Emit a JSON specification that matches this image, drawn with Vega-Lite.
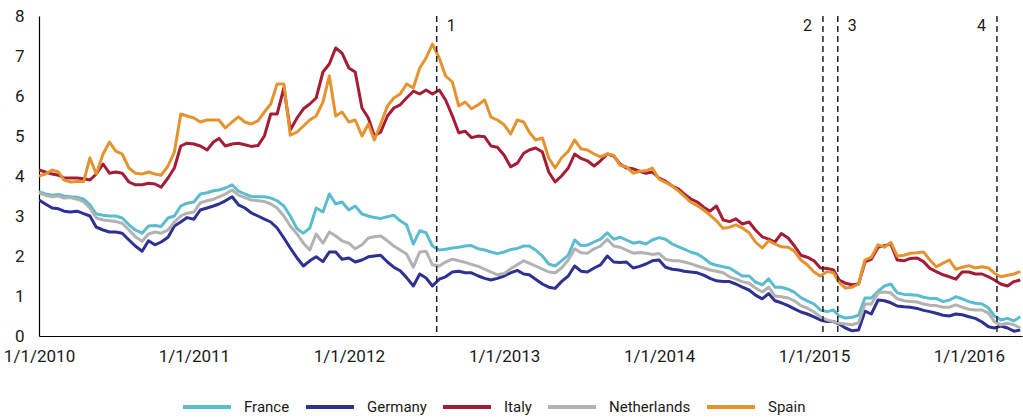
{
  "$schema": "https://vega.github.io/schema/vega-lite/v6.json",
  "width": 983,
  "height": 320,
  "autosize": "none",
  "padding": {"left": 39, "top": 16, "right": 1, "bottom": 83},
  "background": "white",
  "config": {
    "view": {"stroke": null},
    "font": "Roboto",
    "axis": {"labelFont": "Roboto", "labelColor": "#1a1a1a", "grid": false, "ticks": false, "domainColor": "#000000", "domainWidth": 1.2, "title": null, "labelOverlap": false}
  },
  "datasets": {
    "yields": [
      {"d":"2010-01-01","France":3.61,"Germany":3.40,"Italy":4.15,"Netherlands":3.58,"Spain":4.00},
      {"d":"2010-01-16","France":3.55,"Germany":3.30,"Italy":4.10,"Netherlands":3.52,"Spain":4.05},
      {"d":"2010-02-01","France":3.52,"Germany":3.20,"Italy":4.05,"Netherlands":3.48,"Spain":4.15},
      {"d":"2010-02-16","France":3.54,"Germany":3.18,"Italy":4.02,"Netherlands":3.50,"Spain":4.10},
      {"d":"2010-03-01","France":3.50,"Germany":3.12,"Italy":3.95,"Netherlands":3.45,"Spain":3.90},
      {"d":"2010-03-16","France":3.48,"Germany":3.10,"Italy":3.95,"Netherlands":3.46,"Spain":3.85},
      {"d":"2010-04-01","France":3.47,"Germany":3.12,"Italy":3.95,"Netherlands":3.42,"Spain":3.86},
      {"d":"2010-04-16","France":3.42,"Germany":3.06,"Italy":3.93,"Netherlands":3.35,"Spain":3.86},
      {"d":"2010-05-01","France":3.28,"Germany":3.00,"Italy":3.90,"Netherlands":3.20,"Spain":4.45},
      {"d":"2010-05-16","France":3.05,"Germany":2.72,"Italy":4.05,"Netherlands":2.95,"Spain":4.05},
      {"d":"2010-06-01","France":3.02,"Germany":2.65,"Italy":4.30,"Netherlands":2.90,"Spain":4.55},
      {"d":"2010-06-16","France":3.00,"Germany":2.60,"Italy":4.07,"Netherlands":2.88,"Spain":4.85},
      {"d":"2010-07-01","France":3.00,"Germany":2.60,"Italy":4.10,"Netherlands":2.86,"Spain":4.62},
      {"d":"2010-07-16","France":2.95,"Germany":2.57,"Italy":4.07,"Netherlands":2.82,"Spain":4.55},
      {"d":"2010-08-01","France":2.78,"Germany":2.40,"Italy":3.85,"Netherlands":2.65,"Spain":4.20},
      {"d":"2010-08-16","France":2.65,"Germany":2.25,"Italy":3.78,"Netherlands":2.48,"Spain":4.07},
      {"d":"2010-09-01","France":2.57,"Germany":2.12,"Italy":3.78,"Netherlands":2.37,"Spain":4.05},
      {"d":"2010-09-16","France":2.75,"Germany":2.38,"Italy":3.82,"Netherlands":2.55,"Spain":4.10},
      {"d":"2010-10-01","France":2.76,"Germany":2.28,"Italy":3.80,"Netherlands":2.60,"Spain":4.05},
      {"d":"2010-10-16","France":2.74,"Germany":2.35,"Italy":3.72,"Netherlands":2.57,"Spain":4.02},
      {"d":"2010-11-01","France":2.95,"Germany":2.47,"Italy":3.95,"Netherlands":2.65,"Spain":4.25},
      {"d":"2010-11-16","France":3.00,"Germany":2.75,"Italy":4.20,"Netherlands":2.85,"Spain":4.60},
      {"d":"2010-12-01","France":3.25,"Germany":2.85,"Italy":4.75,"Netherlands":3.00,"Spain":5.55},
      {"d":"2010-12-16","France":3.32,"Germany":2.96,"Italy":4.82,"Netherlands":3.07,"Spain":5.50},
      {"d":"2011-01-01","France":3.35,"Germany":2.92,"Italy":4.80,"Netherlands":3.10,"Spain":5.45},
      {"d":"2011-01-16","France":3.55,"Germany":3.15,"Italy":4.75,"Netherlands":3.33,"Spain":5.35},
      {"d":"2011-02-01","France":3.58,"Germany":3.20,"Italy":4.65,"Netherlands":3.38,"Spain":5.40},
      {"d":"2011-02-16","France":3.63,"Germany":3.25,"Italy":4.85,"Netherlands":3.42,"Spain":5.40},
      {"d":"2011-03-01","France":3.65,"Germany":3.30,"Italy":4.94,"Netherlands":3.48,"Spain":5.40},
      {"d":"2011-03-16","France":3.70,"Germany":3.38,"Italy":4.75,"Netherlands":3.55,"Spain":5.20},
      {"d":"2011-04-01","France":3.78,"Germany":3.48,"Italy":4.80,"Netherlands":3.65,"Spain":5.35},
      {"d":"2011-04-16","France":3.62,"Germany":3.28,"Italy":4.82,"Netherlands":3.52,"Spain":5.48},
      {"d":"2011-05-01","France":3.55,"Germany":3.20,"Italy":4.78,"Netherlands":3.46,"Spain":5.35},
      {"d":"2011-05-16","France":3.49,"Germany":3.08,"Italy":4.74,"Netherlands":3.40,"Spain":5.30},
      {"d":"2011-06-01","France":3.48,"Germany":3.00,"Italy":4.76,"Netherlands":3.38,"Spain":5.38},
      {"d":"2011-06-16","France":3.48,"Germany":2.92,"Italy":5.00,"Netherlands":3.36,"Spain":5.60},
      {"d":"2011-07-01","France":3.45,"Germany":2.85,"Italy":5.55,"Netherlands":3.30,"Spain":5.80},
      {"d":"2011-07-16","France":3.38,"Germany":2.70,"Italy":5.55,"Netherlands":3.20,"Spain":6.30},
      {"d":"2011-08-01","France":3.25,"Germany":2.45,"Italy":6.20,"Netherlands":3.00,"Spain":6.30},
      {"d":"2011-08-16","France":3.00,"Germany":2.20,"Italy":5.15,"Netherlands":2.75,"Spain":5.02},
      {"d":"2011-09-01","France":2.68,"Germany":1.95,"Italy":5.45,"Netherlands":2.55,"Spain":5.10},
      {"d":"2011-09-16","France":2.57,"Germany":1.75,"Italy":5.68,"Netherlands":2.32,"Spain":5.25},
      {"d":"2011-10-01","France":2.70,"Germany":1.88,"Italy":5.80,"Netherlands":2.15,"Spain":5.40},
      {"d":"2011-10-16","France":3.20,"Germany":1.98,"Italy":5.95,"Netherlands":2.55,"Spain":5.50},
      {"d":"2011-11-01","France":3.10,"Germany":1.86,"Italy":6.60,"Netherlands":2.32,"Spain":5.85},
      {"d":"2011-11-16","France":3.55,"Germany":2.10,"Italy":6.80,"Netherlands":2.60,"Spain":6.50},
      {"d":"2011-12-01","France":3.30,"Germany":2.10,"Italy":7.20,"Netherlands":2.50,"Spain":5.50},
      {"d":"2011-12-16","France":3.35,"Germany":1.92,"Italy":7.07,"Netherlands":2.38,"Spain":5.60},
      {"d":"2012-01-01","France":3.15,"Germany":1.95,"Italy":6.70,"Netherlands":2.32,"Spain":5.35},
      {"d":"2012-01-16","France":3.25,"Germany":1.85,"Italy":6.60,"Netherlands":2.18,"Spain":5.40},
      {"d":"2012-02-01","France":3.05,"Germany":1.90,"Italy":5.70,"Netherlands":2.28,"Spain":5.00},
      {"d":"2012-02-16","France":3.00,"Germany":1.98,"Italy":5.45,"Netherlands":2.45,"Spain":5.30},
      {"d":"2012-03-01","France":2.96,"Germany":2.00,"Italy":5.00,"Netherlands":2.48,"Spain":4.90},
      {"d":"2012-03-16","France":2.94,"Germany":2.02,"Italy":5.10,"Netherlands":2.50,"Spain":5.30},
      {"d":"2012-04-01","France":2.98,"Germany":1.85,"Italy":5.50,"Netherlands":2.38,"Spain":5.75},
      {"d":"2012-04-16","France":3.02,"Germany":1.72,"Italy":5.70,"Netherlands":2.25,"Spain":5.95},
      {"d":"2012-05-01","France":2.88,"Germany":1.63,"Italy":5.78,"Netherlands":2.15,"Spain":6.05},
      {"d":"2012-05-16","France":2.78,"Germany":1.46,"Italy":5.95,"Netherlands":2.05,"Spain":6.30},
      {"d":"2012-06-01","France":2.30,"Germany":1.25,"Italy":6.12,"Netherlands":1.72,"Spain":6.20},
      {"d":"2012-06-16","France":2.63,"Germany":1.55,"Italy":6.05,"Netherlands":2.10,"Spain":6.70},
      {"d":"2012-07-01","France":2.58,"Germany":1.45,"Italy":6.15,"Netherlands":2.12,"Spain":6.95},
      {"d":"2012-07-16","France":2.25,"Germany":1.25,"Italy":6.05,"Netherlands":1.78,"Spain":7.30},
      {"d":"2012-08-01","France":2.15,"Germany":1.42,"Italy":6.15,"Netherlands":1.75,"Spain":6.95},
      {"d":"2012-08-16","France":2.17,"Germany":1.48,"Italy":5.90,"Netherlands":1.85,"Spain":6.50},
      {"d":"2012-09-01","France":2.20,"Germany":1.60,"Italy":5.50,"Netherlands":1.92,"Spain":6.35},
      {"d":"2012-09-16","France":2.22,"Germany":1.62,"Italy":5.08,"Netherlands":1.88,"Spain":5.75},
      {"d":"2012-10-01","France":2.25,"Germany":1.58,"Italy":5.12,"Netherlands":1.84,"Spain":5.85},
      {"d":"2012-10-16","France":2.26,"Germany":1.58,"Italy":4.96,"Netherlands":1.79,"Spain":5.68},
      {"d":"2012-11-01","France":2.18,"Germany":1.50,"Italy":5.00,"Netherlands":1.74,"Spain":5.78},
      {"d":"2012-11-16","France":2.15,"Germany":1.44,"Italy":4.98,"Netherlands":1.67,"Spain":5.90},
      {"d":"2012-12-01","France":2.10,"Germany":1.40,"Italy":4.75,"Netherlands":1.60,"Spain":5.47},
      {"d":"2012-12-16","France":2.06,"Germany":1.44,"Italy":4.72,"Netherlands":1.53,"Spain":5.40},
      {"d":"2013-01-01","France":2.10,"Germany":1.50,"Italy":4.52,"Netherlands":1.56,"Spain":5.28},
      {"d":"2013-01-16","France":2.16,"Germany":1.58,"Italy":4.23,"Netherlands":1.68,"Spain":5.05},
      {"d":"2013-02-01","France":2.19,"Germany":1.64,"Italy":4.32,"Netherlands":1.78,"Spain":5.40},
      {"d":"2013-02-16","France":2.25,"Germany":1.55,"Italy":4.57,"Netherlands":1.88,"Spain":5.35},
      {"d":"2013-03-01","France":2.25,"Germany":1.53,"Italy":4.65,"Netherlands":1.82,"Spain":5.10},
      {"d":"2013-03-16","France":2.15,"Germany":1.42,"Italy":4.70,"Netherlands":1.75,"Spain":4.90},
      {"d":"2013-04-01","France":2.00,"Germany":1.30,"Italy":4.60,"Netherlands":1.67,"Spain":4.95},
      {"d":"2013-04-16","France":1.80,"Germany":1.22,"Italy":4.10,"Netherlands":1.60,"Spain":4.45},
      {"d":"2013-05-01","France":1.75,"Germany":1.19,"Italy":3.85,"Netherlands":1.58,"Spain":4.20},
      {"d":"2013-05-16","France":1.88,"Germany":1.36,"Italy":4.00,"Netherlands":1.70,"Spain":4.45},
      {"d":"2013-06-01","France":2.02,"Germany":1.50,"Italy":4.20,"Netherlands":1.90,"Spain":4.62},
      {"d":"2013-06-16","France":2.40,"Germany":1.75,"Italy":4.55,"Netherlands":2.18,"Spain":4.90},
      {"d":"2013-07-01","France":2.26,"Germany":1.62,"Italy":4.44,"Netherlands":2.08,"Spain":4.68},
      {"d":"2013-07-16","France":2.27,"Germany":1.60,"Italy":4.38,"Netherlands":2.07,"Spain":4.65},
      {"d":"2013-08-01","France":2.35,"Germany":1.70,"Italy":4.25,"Netherlands":2.18,"Spain":4.55},
      {"d":"2013-08-16","France":2.42,"Germany":1.78,"Italy":4.38,"Netherlands":2.25,"Spain":4.48},
      {"d":"2013-09-01","France":2.58,"Germany":2.00,"Italy":4.55,"Netherlands":2.42,"Spain":4.55},
      {"d":"2013-09-16","France":2.42,"Germany":1.85,"Italy":4.50,"Netherlands":2.25,"Spain":4.52},
      {"d":"2013-10-01","France":2.47,"Germany":1.84,"Italy":4.30,"Netherlands":2.22,"Spain":4.27},
      {"d":"2013-10-16","France":2.40,"Germany":1.85,"Italy":4.20,"Netherlands":2.15,"Spain":4.23},
      {"d":"2013-11-01","France":2.32,"Germany":1.70,"Italy":4.18,"Netherlands":2.07,"Spain":4.07},
      {"d":"2013-11-16","France":2.35,"Germany":1.74,"Italy":4.12,"Netherlands":2.09,"Spain":4.12},
      {"d":"2013-12-01","France":2.30,"Germany":1.80,"Italy":4.07,"Netherlands":2.07,"Spain":4.13},
      {"d":"2013-12-16","France":2.40,"Germany":1.88,"Italy":4.10,"Netherlands":2.04,"Spain":4.20},
      {"d":"2014-01-01","France":2.46,"Germany":1.90,"Italy":3.95,"Netherlands":2.06,"Spain":3.92},
      {"d":"2014-01-16","France":2.42,"Germany":1.72,"Italy":3.87,"Netherlands":1.92,"Spain":3.84},
      {"d":"2014-02-01","France":2.30,"Germany":1.67,"Italy":3.75,"Netherlands":1.88,"Spain":3.75},
      {"d":"2014-02-16","France":2.23,"Germany":1.65,"Italy":3.67,"Netherlands":1.88,"Spain":3.62},
      {"d":"2014-03-01","France":2.17,"Germany":1.62,"Italy":3.55,"Netherlands":1.85,"Spain":3.50},
      {"d":"2014-03-16","France":2.10,"Germany":1.60,"Italy":3.43,"Netherlands":1.81,"Spain":3.35},
      {"d":"2014-04-01","France":2.05,"Germany":1.58,"Italy":3.35,"Netherlands":1.75,"Spain":3.26},
      {"d":"2014-04-16","France":1.95,"Germany":1.52,"Italy":3.22,"Netherlands":1.70,"Spain":3.15},
      {"d":"2014-05-01","France":1.82,"Germany":1.44,"Italy":3.12,"Netherlands":1.65,"Spain":3.02},
      {"d":"2014-05-16","France":1.77,"Germany":1.38,"Italy":3.25,"Netherlands":1.62,"Spain":2.88},
      {"d":"2014-06-01","France":1.73,"Germany":1.36,"Italy":2.90,"Netherlands":1.58,"Spain":2.69},
      {"d":"2014-06-16","France":1.70,"Germany":1.36,"Italy":2.86,"Netherlands":1.48,"Spain":2.72},
      {"d":"2014-07-01","France":1.60,"Germany":1.30,"Italy":2.93,"Netherlands":1.42,"Spain":2.78},
      {"d":"2014-07-16","France":1.50,"Germany":1.22,"Italy":2.80,"Netherlands":1.36,"Spain":2.70},
      {"d":"2014-08-01","France":1.50,"Germany":1.15,"Italy":2.85,"Netherlands":1.32,"Spain":2.58},
      {"d":"2014-08-16","France":1.35,"Germany":1.02,"Italy":2.65,"Netherlands":1.20,"Spain":2.35},
      {"d":"2014-09-01","France":1.28,"Germany":0.93,"Italy":2.48,"Netherlands":1.10,"Spain":2.20},
      {"d":"2014-09-16","France":1.43,"Germany":1.06,"Italy":2.42,"Netherlands":1.22,"Spain":2.38},
      {"d":"2014-10-01","France":1.22,"Germany":0.88,"Italy":2.35,"Netherlands":1.00,"Spain":2.30},
      {"d":"2014-10-16","France":1.22,"Germany":0.83,"Italy":2.56,"Netherlands":0.98,"Spain":2.23},
      {"d":"2014-11-01","France":1.17,"Germany":0.76,"Italy":2.45,"Netherlands":0.95,"Spain":2.22},
      {"d":"2014-11-16","France":1.09,"Germany":0.68,"Italy":2.25,"Netherlands":0.88,"Spain":2.12},
      {"d":"2014-12-01","France":0.96,"Germany":0.60,"Italy":2.02,"Netherlands":0.76,"Spain":1.90},
      {"d":"2014-12-16","France":0.88,"Germany":0.55,"Italy":1.97,"Netherlands":0.70,"Spain":1.78},
      {"d":"2015-01-01","France":0.80,"Germany":0.48,"Italy":1.88,"Netherlands":0.60,"Spain":1.60},
      {"d":"2015-01-16","France":0.65,"Germany":0.40,"Italy":1.70,"Netherlands":0.48,"Spain":1.50},
      {"d":"2015-02-01","France":0.61,"Germany":0.36,"Italy":1.69,"Netherlands":0.40,"Spain":1.61},
      {"d":"2015-02-16","France":0.65,"Germany":0.36,"Italy":1.65,"Netherlands":0.36,"Spain":1.58},
      {"d":"2015-03-01","France":0.50,"Germany":0.30,"Italy":1.40,"Netherlands":0.32,"Spain":1.34},
      {"d":"2015-03-16","France":0.45,"Germany":0.20,"Italy":1.32,"Netherlands":0.30,"Spain":1.20},
      {"d":"2015-04-01","France":0.47,"Germany":0.13,"Italy":1.28,"Netherlands":0.28,"Spain":1.22},
      {"d":"2015-04-16","France":0.52,"Germany":0.15,"Italy":1.30,"Netherlands":0.33,"Spain":1.30},
      {"d":"2015-05-01","France":0.95,"Germany":0.62,"Italy":1.85,"Netherlands":0.80,"Spain":1.90},
      {"d":"2015-05-16","France":0.95,"Germany":0.55,"Italy":1.92,"Netherlands":0.80,"Spain":1.97},
      {"d":"2015-06-01","France":1.12,"Germany":0.90,"Italy":2.22,"Netherlands":1.08,"Spain":2.28},
      {"d":"2015-06-16","France":1.25,"Germany":0.88,"Italy":2.26,"Netherlands":1.10,"Spain":2.22},
      {"d":"2015-07-01","France":1.30,"Germany":0.83,"Italy":2.30,"Netherlands":1.08,"Spain":2.34},
      {"d":"2015-07-16","France":1.08,"Germany":0.75,"Italy":1.90,"Netherlands":0.93,"Spain":2.00},
      {"d":"2015-08-01","France":1.04,"Germany":0.73,"Italy":1.88,"Netherlands":0.88,"Spain":2.02},
      {"d":"2015-08-16","France":1.03,"Germany":0.72,"Italy":1.94,"Netherlands":0.86,"Spain":2.07},
      {"d":"2015-09-01","France":1.02,"Germany":0.69,"Italy":1.95,"Netherlands":0.85,"Spain":2.08},
      {"d":"2015-09-16","France":0.97,"Germany":0.64,"Italy":1.86,"Netherlands":0.80,"Spain":2.10},
      {"d":"2015-10-01","France":0.94,"Germany":0.61,"Italy":1.69,"Netherlands":0.77,"Spain":1.90},
      {"d":"2015-10-16","France":0.94,"Germany":0.57,"Italy":1.61,"Netherlands":0.76,"Spain":1.73},
      {"d":"2015-11-01","France":0.86,"Germany":0.52,"Italy":1.53,"Netherlands":0.72,"Spain":1.82},
      {"d":"2015-11-16","France":0.90,"Germany":0.50,"Italy":1.48,"Netherlands":0.72,"Spain":1.90},
      {"d":"2015-12-01","France":0.98,"Germany":0.55,"Italy":1.42,"Netherlands":0.78,"Spain":1.67},
      {"d":"2015-12-16","France":0.93,"Germany":0.53,"Italy":1.60,"Netherlands":0.72,"Spain":1.72},
      {"d":"2016-01-01","France":0.86,"Germany":0.48,"Italy":1.60,"Netherlands":0.67,"Spain":1.76},
      {"d":"2016-01-16","France":0.82,"Germany":0.44,"Italy":1.55,"Netherlands":0.65,"Spain":1.70},
      {"d":"2016-02-01","France":0.80,"Germany":0.35,"Italy":1.55,"Netherlands":0.65,"Spain":1.73},
      {"d":"2016-02-16","France":0.70,"Germany":0.23,"Italy":1.48,"Netherlands":0.57,"Spain":1.70},
      {"d":"2016-03-01","France":0.50,"Germany":0.20,"Italy":1.40,"Netherlands":0.36,"Spain":1.57},
      {"d":"2016-03-16","France":0.40,"Germany":0.25,"Italy":1.30,"Netherlands":0.28,"Spain":1.48},
      {"d":"2016-04-01","France":0.44,"Germany":0.20,"Italy":1.25,"Netherlands":0.32,"Spain":1.52},
      {"d":"2016-04-16","France":0.38,"Germany":0.12,"Italy":1.36,"Netherlands":0.28,"Spain":1.55},
      {"d":"2016-05-01","France":0.48,"Germany":0.15,"Italy":1.40,"Netherlands":0.20,"Spain":1.61}
    ],
    "events": [
      {"d":"2012-07-26","n":"1"},
      {"d":"2015-01-22","n":"2"},
      {"d":"2015-02-26","n":"3"},
      {"d":"2016-03-07","n":"4"}
    ]
  },
  "layer": [
    {
      "data": {"name": "yields"},
      "transform": [{"fold": ["France","Germany","Italy","Netherlands","Spain"], "as": ["country","value"]}],
      "mark": {"type": "line", "strokeWidth": 3, "strokeJoin": "round", "clip": true},
      "encoding": {
        "x": {"field": "d", "type": "temporal",
          "scale": {"type": "utc", "domain": [1262304000000, 1462406400000]},
          "axis": {"values": [1262304000000,1293840000000,1325376000000,1356998400000,1388534400000,1420070400000,1451606400000],
            "labelExpr": "utcFormat(datum.value, '%-m/%-d/%Y')", "labelFontSize": 17, "labelPadding": 12, "labelFlush": false}},
        "y": {"field": "value", "type": "quantitative",
          "scale": {"domain": [0, 8], "nice": false},
          "axis": {"values": [0,1,2,3,4,5,6,7,8], "labelFontSize": 17, "labelPadding": 15}},
        "color": {"field": "country", "type": "nominal",
          "scale": {"domain": ["France","Germany","Italy","Netherlands","Spain"], "range": ["#5BBCD0","#2E3192","#A51C36","#B2B2B2","#E5932F"]},
          "legend": {"title": null, "orient": "none", "legendX": 142, "legendY": 365, "direction": "horizontal",
            "symbolType": "stroke", "symbolSize": 2304, "symbolStrokeWidth": 4,
            "labelFontSize": 15, "labelFont": "Roboto", "labelColor": "#1a1a1a", "labelOffset": 11, "columnPadding": 8}}
      }
    },
    {
      "data": {"name": "events"},
      "mark": {"type": "rule", "color": "#222222", "strokeWidth": 1.5, "strokeDash": [6, 4]},
      "encoding": {"x": {"field": "d", "type": "temporal"}}
    },
    {
      "data": {"name": "events"},
      "transform": [{"filter": "datum.n === '1' || datum.n === '3'"}],
      "mark": {"type": "text", "align": "left", "baseline": "middle", "dx": 10, "fontSize": 16, "font": "Roboto", "color": "#1a1a1a"},
      "encoding": {"x": {"field": "d", "type": "temporal"},
        "y": {"datum": 7.75, "type": "quantitative", "axis": {"values": [0,1,2,3,4,5,6,7,8], "labelFontSize": 17, "labelPadding": 15}},
        "text": {"field": "n"}}
    },
    {
      "data": {"name": "events"},
      "transform": [{"filter": "datum.n === '2' || datum.n === '4'"}],
      "mark": {"type": "text", "align": "right", "baseline": "middle", "dx": -11, "fontSize": 16, "font": "Roboto", "color": "#1a1a1a"},
      "encoding": {"x": {"field": "d", "type": "temporal"},
        "y": {"datum": 7.75, "type": "quantitative", "axis": {"values": [0,1,2,3,4,5,6,7,8], "labelFontSize": 17, "labelPadding": 15}},
        "text": {"field": "n"}}
    }
  ]
}
